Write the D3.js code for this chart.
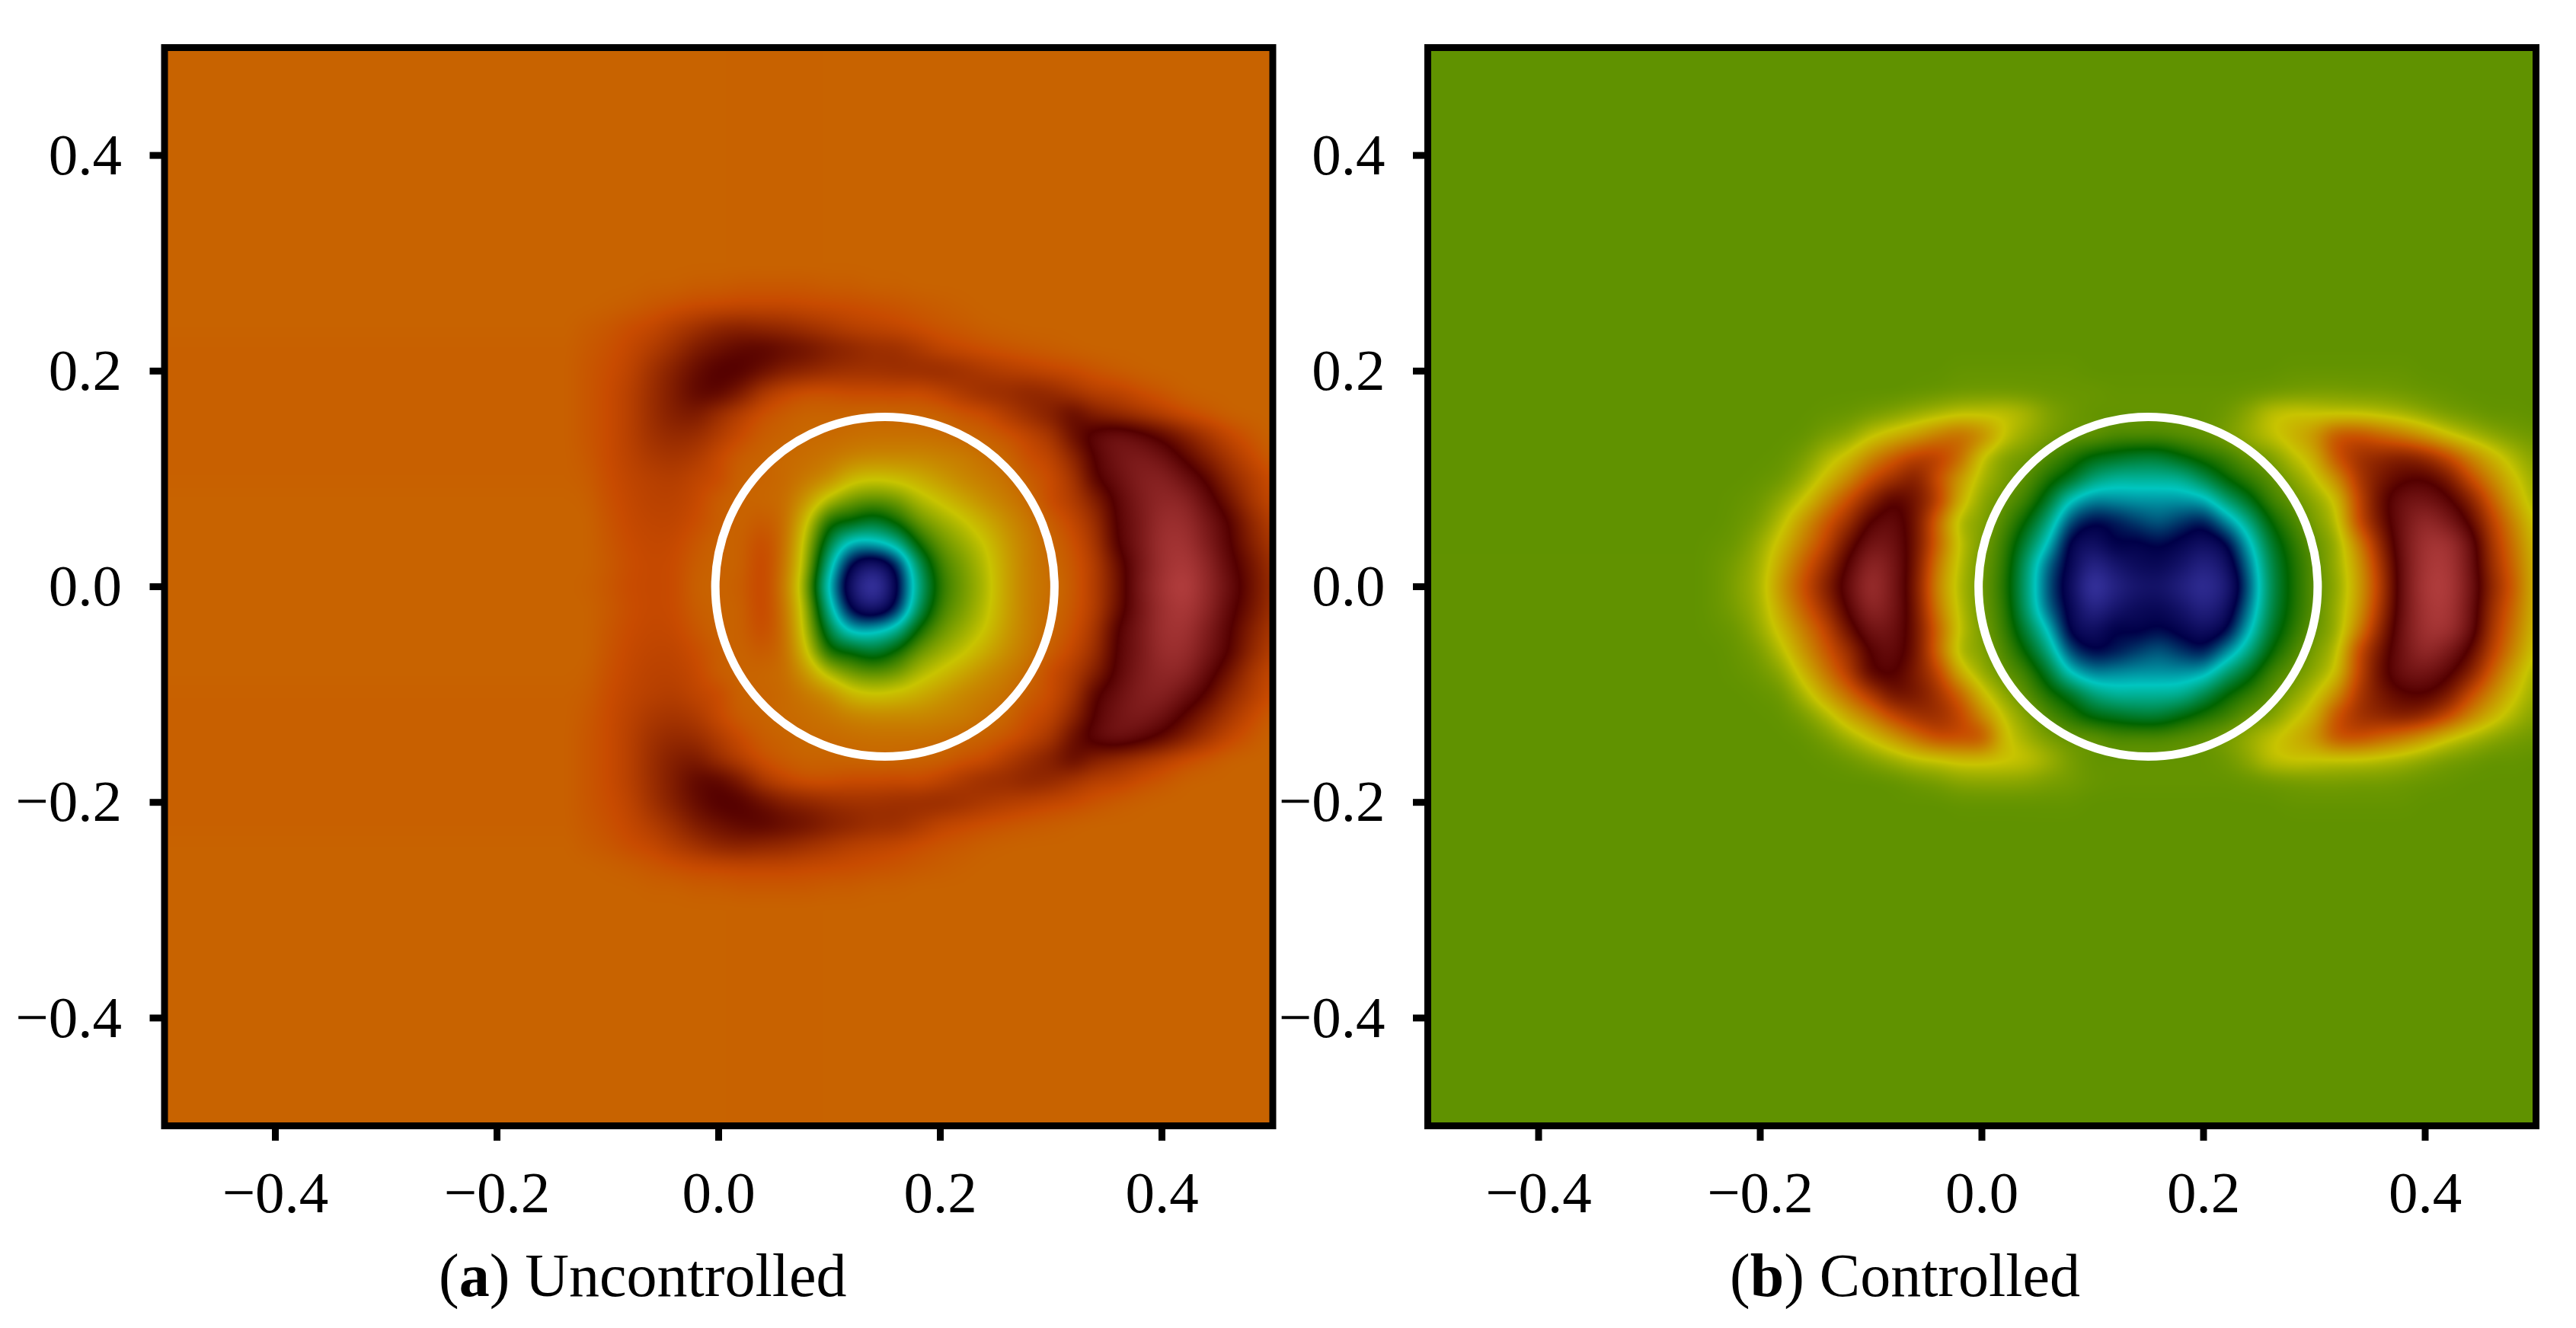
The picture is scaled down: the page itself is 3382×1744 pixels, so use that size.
<!DOCTYPE html>
<html>
<head>
<meta charset="utf-8">
<style>
  html, body { margin: 0; background: #fff; }
  svg { display: block; }
  text { font-family: "Liberation Serif", serif; fill: #000; }
</style>
<script src="https://cdn.jsdelivr.net/npm/d3@7"></script>
</head>
<body>
<div id="chart"></div>
<script>
const levelStops = [0, 1, 2, 3, 4, 5, 6, 7];
const levelColors = ["#3a36a4", "#000048", "#00c6c0", "#006400", "#c8c400", "#c84b00", "#540000", "#b03c3c"];
const tickValues = [-0.4, -0.2, 0.0, 0.2, 0.4];
const circleCenter = [0.15, 0];
const circleRadius = [0.153, 0.1575];

// rows run outwards from y = 0, the uncontrolled field mirrors about y = 0
const uncontrolledX = [-0.14, -0.12, -0.10, -0.08, -0.06, -0.04, -0.02, 0, 0.02, 0.04, 0.06, 0.08, 0.10, 0.12, 0.14, 0.16, 0.18, 0.20, 0.22, 0.24, 0.26, 0.28, 0.30, 0.32, 0.34, 0.36, 0.38, 0.40, 0.42, 0.44, 0.46, 0.48, 0.50];
const uncontrolledY = [0, 0.02, 0.04, 0.06, 0.08, 0.10, 0.12, 0.14, 0.16, 0.18, 0.20, 0.22, 0.24, 0.26, 0.28, 0.30];
const uncontrolled = [
  [4.8,4.82,4.9,5.0,5.03,5.0,4.82,4.8,4.85,5.05,4.6,3.55,1.9,.55,-.1,.85,2.3,3.2,3.55,3.85,4.3,4.6,4.72,4.88,5.2,5.75,6.4,6.85,7.05,6.7,6.25,5.8,5.4],
  [4.8,4.8,4.88,4.98,5.03,5.0,4.85,4.8,4.82,5.05,4.65,3.7,2.2,.9,.5,1.1,2.5,3.3,3.6,3.9,4.3,4.6,4.75,4.9,5.2,5.8,6.35,6.8,6.95,6.65,6.15,5.75,5.35],
  [4.8,4.8,4.9,5.0,5.05,5.03,4.9,4.8,4.82,5.0,4.7,3.8,2.65,1.85,1.85,2.2,3.05,3.5,3.75,4.0,4.35,4.6,4.78,4.95,5.3,6.0,6.4,6.8,6.85,6.5,6.05,5.6,5.25],
  [4.8,4.8,4.92,5.03,5.08,5.08,4.98,4.85,4.8,4.88,4.72,4.0,3.1,2.95,2.75,3.05,3.5,3.75,3.95,4.2,4.45,4.65,4.85,5.05,5.4,6.05,6.4,6.75,6.75,6.4,6.0,5.5,5.15],
  [4.8,4.82,4.95,5.05,5.12,5.12,5.03,4.85,4.8,4.78,4.72,4.35,3.85,3.55,3.45,3.55,3.85,4.05,4.25,4.45,4.6,4.75,5.0,5.2,5.6,6.1,6.45,6.65,6.6,6.2,5.75,5.3,5.03],
  [4.82,4.85,4.98,5.08,5.15,5.18,5.08,5.0,4.8,4.8,4.75,4.62,4.45,4.12,4.02,4.08,4.2,4.35,4.5,4.6,4.7,4.85,5.0,5.3,5.95,6.25,6.5,6.55,6.3,5.95,5.5,5.2,4.97],
  [4.82,4.88,5.0,5.12,5.25,5.3,5.22,5.02,4.85,4.8,4.75,4.72,4.65,4.55,4.5,4.5,4.5,4.55,4.6,4.7,4.78,4.97,5.1,5.5,6.05,6.35,6.45,6.3,5.95,5.6,5.28,5.03,4.85],
  [4.82,4.9,5.0,5.15,5.35,5.45,5.4,5.2,5.0,4.85,4.8,4.75,4.75,4.72,4.7,4.7,4.7,4.72,4.77,4.82,4.92,5.08,5.3,5.8,6.15,6.3,6.15,5.9,5.6,5.3,5.05,4.9,4.8],
  [4.82,4.9,5.0,5.15,5.4,5.6,5.65,5.4,5.15,4.95,4.85,4.8,4.8,4.78,4.77,4.78,4.8,4.82,4.92,5.0,5.2,5.4,5.6,5.85,5.6,5.45,5.3,5.15,5.0,4.9,4.82,4.8,4.8],
  [4.82,4.9,5.0,5.15,5.4,5.65,5.9,5.92,5.65,5.25,5.05,4.95,4.95,5.0,5.0,5.02,5.0,5.1,5.25,5.38,5.42,5.5,5.45,5.3,5.15,5.1,4.98,4.9,4.82,4.8,4.8,4.8,4.8],
  [4.82,4.9,4.98,5.1,5.35,5.6,5.85,6.02,6.0,5.8,5.6,5.5,5.4,5.35,5.35,5.38,5.4,5.42,5.35,5.25,5.18,5.12,5.05,5.0,4.92,4.86,4.82,4.8,4.8,4.8,4.8,4.8,4.8],
  [4.82,4.88,4.95,5.05,5.2,5.4,5.65,5.8,5.92,5.95,5.85,5.75,5.6,5.5,5.4,5.38,5.25,5.1,5.03,4.97,4.92,4.88,4.85,4.82,4.8,4.8,4.8,4.8,4.8,4.8,4.8,4.8,4.8],
  [4.8,4.85,4.9,4.98,5.05,5.2,5.35,5.5,5.55,5.5,5.45,5.35,5.25,5.15,5.1,5.05,4.98,4.92,4.88,4.83,4.81,4.8,4.8,4.8,4.8,4.8,4.8,4.8,4.8,4.8,4.8,4.8,4.8],
  [4.8,4.8,4.82,4.85,4.9,4.95,5.0,5.02,5.05,5.05,5.05,5.02,5.0,4.98,4.95,4.92,4.88,4.85,4.82,4.8,4.8,4.8,4.8,4.8,4.8,4.8,4.8,4.8,4.8,4.8,4.8,4.8,4.8],
  [4.8,4.8,4.8,4.8,4.82,4.82,4.85,4.85,4.88,4.88,4.88,4.88,4.85,4.85,4.82,4.82,4.8,4.8,4.8,4.8,4.8,4.8,4.8,4.8,4.8,4.8,4.8,4.8,4.8,4.8,4.8,4.8,4.8],
  [4.8,4.8,4.8,4.8,4.8,4.8,4.8,4.8,4.8,4.8,4.8,4.8,4.8,4.8,4.8,4.8,4.8,4.8,4.8,4.8,4.8,4.8,4.8,4.8,4.8,4.8,4.8,4.8,4.8,4.8,4.8,4.8,4.8]
];

const controlledX = [-0.26, -0.24, -0.22, -0.20, -0.18, -0.16, -0.14, -0.12, -0.10, -0.08, -0.06, -0.04, -0.02, 0, 0.02, 0.04, 0.06, 0.08, 0.10, 0.12, 0.14, 0.16, 0.18, 0.20, 0.22, 0.24, 0.26, 0.28, 0.30, 0.32, 0.34, 0.36, 0.38, 0.40, 0.42, 0.44, 0.46, 0.48, 0.50];
const controlledY = [0, 0.02, 0.04, 0.06, 0.08, 0.10, 0.12, 0.14, 0.16, 0.18, 0.20, 0.22];
const controlled = [
  [3.48,3.52,3.65,3.85,4.43,5.0,5.6,6.25,6.8,6.4,5.65,4.5,3.85,3.55,3.2,2.4,1.4,.75,.0,.35,.6,.65,.4,.15,.45,1.4,2.55,3.1,3.45,3.7,4.3,5.2,6.3,6.95,7.0,6.4,5.5,4.85,4.1],
  [3.48,3.52,3.62,3.82,4.3,4.85,5.4,6.1,6.65,6.4,5.7,4.6,3.9,3.55,3.25,2.45,1.5,.85,.3,.6,.8,.85,.65,.35,.65,1.55,2.6,3.12,3.45,3.75,4.35,5.3,6.3,6.9,6.95,6.35,5.4,4.75,4.1],
  [3.48,3.5,3.55,3.75,4.12,4.6,5.1,5.8,6.35,6.3,5.75,4.8,3.95,3.6,3.3,2.7,1.95,.9,.7,1.0,.95,1.05,.9,.7,.95,1.85,2.75,3.2,3.5,3.75,4.55,5.5,6.35,6.85,6.85,6.3,5.3,4.65,4.05],
  [3.48,3.48,3.52,3.62,3.92,4.4,4.9,5.4,6.05,6.2,5.75,4.75,3.85,3.65,3.4,3.0,2.35,1.35,1.0,1.1,1.3,1.45,1.25,1.1,1.65,2.3,3.0,3.35,3.6,3.9,5.0,5.75,6.35,6.7,6.45,5.95,5.15,4.5,3.95],
  [3.48,3.48,3.5,3.55,3.72,4.02,4.5,5.0,5.55,6.0,5.75,5.15,4.2,3.7,3.5,3.3,2.8,2.0,1.65,1.7,1.75,1.75,1.75,1.85,2.4,2.85,3.3,3.5,3.7,4.05,5.05,5.85,6.3,6.35,6.1,5.6,4.85,4.25,3.8],
  [3.48,3.48,3.48,3.5,3.55,3.75,4.1,4.5,5.0,5.35,5.6,5.0,4.35,3.85,3.6,3.45,3.15,2.85,2.4,2.2,2.2,2.2,2.25,2.6,3.0,3.25,3.45,3.65,3.95,4.45,5.25,5.7,5.95,6.0,5.7,5.05,4.5,4.05,3.75],
  [3.48,3.48,3.48,3.48,3.5,3.6,3.85,4.1,4.5,4.85,5.15,5.15,4.75,4.0,3.65,3.55,3.4,3.2,2.95,2.85,2.75,2.75,2.95,3.15,3.3,3.5,3.6,3.9,4.2,4.95,5.35,5.5,5.6,5.45,5.05,4.55,4.15,3.85,3.65],
  [3.48,3.48,3.48,3.48,3.48,3.5,3.6,3.7,3.95,4.15,4.35,4.6,4.75,4.5,4.0,3.75,3.6,3.5,3.5,3.4,3.4,3.4,3.45,3.5,3.6,3.75,3.95,4.15,4.4,4.95,5.0,4.8,4.6,4.35,4.05,3.85,3.7,3.6,3.55],
  [3.48,3.48,3.48,3.48,3.48,3.48,3.5,3.52,3.58,3.65,3.75,3.85,3.95,3.97,3.97,3.85,3.65,3.55,3.5,3.5,3.5,3.5,3.5,3.5,3.55,3.7,3.95,4.03,4.0,3.97,3.96,3.9,3.82,3.7,3.6,3.55,3.5,3.5,3.48],
  [3.48,3.48,3.48,3.48,3.48,3.48,3.48,3.48,3.48,3.48,3.5,3.52,3.55,3.56,3.56,3.55,3.53,3.52,3.52,3.5,3.5,3.5,3.5,3.5,3.5,3.52,3.55,3.58,3.6,3.6,3.58,3.58,3.55,3.52,3.5,3.48,3.48,3.48,3.48],
  [3.48,3.48,3.48,3.48,3.48,3.48,3.48,3.48,3.48,3.48,3.48,3.48,3.5,3.5,3.5,3.5,3.5,3.5,3.48,3.48,3.48,3.48,3.48,3.48,3.48,3.48,3.48,3.5,3.5,3.5,3.5,3.5,3.5,3.48,3.48,3.48,3.48,3.48,3.48],
  [3.48,3.48,3.48,3.48,3.48,3.48,3.48,3.48,3.48,3.48,3.48,3.48,3.48,3.48,3.48,3.48,3.48,3.48,3.48,3.48,3.48,3.48,3.48,3.48,3.48,3.48,3.48,3.48,3.48,3.48,3.48,3.48,3.48,3.48,3.48,3.48,3.48,3.48,3.48]
];
// below y = 0 the left crescent of the controlled field differs, y = -0.08 to -0.18
const controlledBelowRows = [
  [3.48,3.48,3.5,3.55,3.7,4.15,4.65,5.2,5.95,6.05,5.65,5.1,4.2,3.75,3.5,3.3,2.8,2.0,1.65,1.7,1.75,1.75,1.75,1.85,2.4,2.85,3.3,3.5,3.7,4.05,5.05,5.85,6.3,6.35,6.1,5.6,4.85,4.25,3.8],
  [3.48,3.48,3.48,3.5,3.55,3.85,4.3,4.75,5.25,5.75,5.7,5.35,4.8,4.1,3.7,3.45,3.15,2.85,2.4,2.2,2.2,2.2,2.25,2.6,3.0,3.25,3.45,3.65,3.95,4.45,5.25,5.7,5.95,6.0,5.7,5.05,4.5,4.05,3.75],
  [3.48,3.48,3.48,3.48,3.5,3.6,3.85,4.25,4.6,5.05,5.35,5.4,5.1,4.5,3.95,3.65,3.4,3.2,2.95,2.85,2.75,2.75,2.95,3.15,3.3,3.5,3.6,3.9,4.2,4.95,5.35,5.5,5.6,5.45,5.05,4.55,4.15,3.85,3.65],
  [3.48,3.48,3.48,3.48,3.48,3.5,3.6,3.8,4.05,4.35,4.7,5.0,5.0,4.95,4.1,3.8,3.6,3.5,3.5,3.4,3.4,3.4,3.45,3.5,3.6,3.75,3.95,4.15,4.4,4.95,5.0,4.8,4.6,4.35,4.05,3.85,3.7,3.6,3.55],
  [3.48,3.48,3.48,3.48,3.48,3.48,3.5,3.55,3.65,3.78,3.93,4.0,4.1,4.1,4.05,3.98,3.8,3.6,3.5,3.5,3.5,3.5,3.5,3.5,3.55,3.7,3.95,4.03,4.0,3.97,3.96,3.9,3.82,3.7,3.6,3.55,3.5,3.5,3.48],
  [3.48,3.48,3.48,3.48,3.48,3.48,3.48,3.48,3.48,3.5,3.55,3.6,3.68,3.7,3.7,3.68,3.62,3.58,3.52,3.5,3.5,3.5,3.5,3.5,3.5,3.52,3.55,3.58,3.6,3.6,3.58,3.58,3.55,3.52,3.5,3.48,3.48,3.48,3.48]
];
const controlledBelow = [...controlled.slice(0, 4), ...controlledBelowRows, ...controlled.slice(10)];

const width = 3382;
const height = 1744;
const panelTop = 62.5;
const panelBottom = 1478.5;
const panelWidth = 1455;
const panelHeight = panelBottom - panelTop;

const panels = [
  { left: 216, xs: uncontrolledX, ys: uncontrolledY, rows: uncontrolled, rowsBelow: uncontrolled, bold: "a", label: " Uncontrolled", capX: 576 },
  { left: 1874.5, xs: controlledX, ys: controlledY, rows: controlled, rowsBelow: controlledBelow, bold: "b", label: " Controlled", capX: 2271 }
];

const svg = d3.select("#chart")
  .append("svg")
  .attr("width", width)
  .attr("height", height);

const color = d3.scaleLinear().domain(levelStops).range(levelColors).clamp(true);
const lutSize = 4096;
const lut = d3.range(lutSize).map(i => {
  const c = d3.rgb(color(i / (lutSize - 1) * 7));
  return [c.r, c.g, c.b];
});

const tickFormat = d3.format(".1f");
const fontSize = 77;

// share of B-spline in the shading, the rest is Catmull-Rom
const smoothing = 0.6;
function cubic(p0, p1, p2, p3, t) {
  const t2 = t * t, t3 = t2 * t;
  const cr = 0.5 * (2 * p1 + (p2 - p0) * t + (2 * p0 - 5 * p1 + 4 * p2 - p3) * t2 + (3 * p1 - p0 - 3 * p2 + p3) * t3);
  const bs = ((1 - 3 * t + 3 * t2 - t3) * p0 + (4 - 6 * t2 + 3 * t3) * p1 + (1 + 3 * t + 3 * t2 - 3 * t3) * p2 + t3 * p3) / 6;
  return cr + smoothing * (bs - cr);
}

// smooth shading between the listed grid values, coloured per pixel
function renderField(panel, x, y) {
  const canvas = document.createElement("canvas");
  canvas.width = panelWidth;
  canvas.height = Math.round(panelHeight);
  const ctx = canvas.getContext("2d");
  const img = ctx.createImageData(canvas.width, canvas.height);
  const nx = panel.xs.length, ny = panel.ys.length;
  const xi = d3.scaleLinear().domain(d3.extent(panel.xs)).range([0, nx - 1]).clamp(true);
  const yi = d3.scaleLinear().domain(d3.extent(panel.ys)).range([0, ny - 1]).clamp(true);
  const cl = (v, n) => Math.max(0, Math.min(n - 1, v));
  const colIdx = d3.range(canvas.width).map(px => xi(x.invert(panel.left + px + 0.5)));
  let k = 0;
  for (let py = 0; py < canvas.height; py++) {
    const yv = y.invert(panelTop + py + 0.5);
    const rows = yv < 0 ? panel.rowsBelow : panel.rows;
    const fy = yi(Math.abs(yv));
    const j = Math.min(Math.floor(fy), ny - 2), ty = fy - j;
    const r0 = rows[Math.abs(j - 1)], r1 = rows[j], r2 = rows[j + 1], r3 = rows[cl(j + 2, ny)];
    for (let px = 0; px < canvas.width; px++) {
      const fx = colIdx[px];
      const i = Math.min(Math.floor(fx), nx - 2), tx = fx - i;
      const a = cl(i - 1, nx), b = i, c = i + 1, d = cl(i + 2, nx);
      const v = cubic(
        cubic(r0[a], r0[b], r0[c], r0[d], tx),
        cubic(r1[a], r1[b], r1[c], r1[d], tx),
        cubic(r2[a], r2[b], r2[c], r2[d], tx),
        cubic(r3[a], r3[b], r3[c], r3[d], tx), ty);
      const rgb = lut[Math.max(0, Math.min(lutSize - 1, Math.round(v / 7 * (lutSize - 1))))];
      img.data[k++] = rgb[0];
      img.data[k++] = rgb[1];
      img.data[k++] = rgb[2];
      img.data[k++] = 255;
    }
  }
  ctx.putImageData(img, 0, 0);
  return canvas.toDataURL("image/png");
}

panels.forEach(panel => {
  const x = d3.scaleLinear().domain([-0.5, 0.5]).range([panel.left, panel.left + panelWidth]);
  const y = d3.scaleLinear().domain([-0.5, 0.5]).range([panelBottom, panelTop]);
  const g = svg.append("g");

  g.append("image")
    .attr("x", panel.left)
    .attr("y", panelTop)
    .attr("width", panelWidth)
    .attr("height", panelHeight)
    .attr("preserveAspectRatio", "none")
    .attr("href", renderField(panel, x, y));

  g.append("ellipse")
    .attr("cx", x(circleCenter[0]))
    .attr("cy", y(circleCenter[1]))
    .attr("rx", x(circleRadius[0]) - x(0))
    .attr("ry", y(0) - y(circleRadius[1]))
    .attr("fill", "none")
    .attr("stroke", "#fff")
    .attr("stroke-width", 11);

  const xAxis = d3.axisBottom(x).tickValues(tickValues).tickFormat(tickFormat).tickSize(19.5).tickPadding(39.3).offset(0);
  const yAxis = d3.axisLeft(y).tickValues(tickValues).tickFormat(tickFormat).tickSize(19.5).tickPadding(36.5).offset(0);

  [g.append("g").attr("transform", `translate(0,${panelBottom})`).call(xAxis),
   g.append("g").attr("transform", `translate(${panel.left},0)`).call(yAxis)].forEach(axis => {
    axis.select(".domain").remove();
    axis.selectAll(".tick line").attr("stroke", "#000").attr("stroke-width", 9);
    axis.selectAll(".tick text").attr("font-size", fontSize).attr("font-family", "Liberation Serif").attr("fill", "#000");
  });

  g.append("rect")
    .attr("x", panel.left)
    .attr("y", panelTop)
    .attr("width", panelWidth)
    .attr("height", panelHeight)
    .attr("fill", "none")
    .attr("stroke", "#000")
    .attr("stroke-width", 9);

  const caption = g.append("text")
    .attr("x", panel.capX)
    .attr("y", 1702)
    .attr("font-size", 80);
  caption.append("tspan").text("(");
  caption.append("tspan").attr("font-weight", "bold").text(panel.bold);
  caption.append("tspan").text(")");
  caption.append("tspan").text(panel.label);
});
</script>
</body>
</html>
